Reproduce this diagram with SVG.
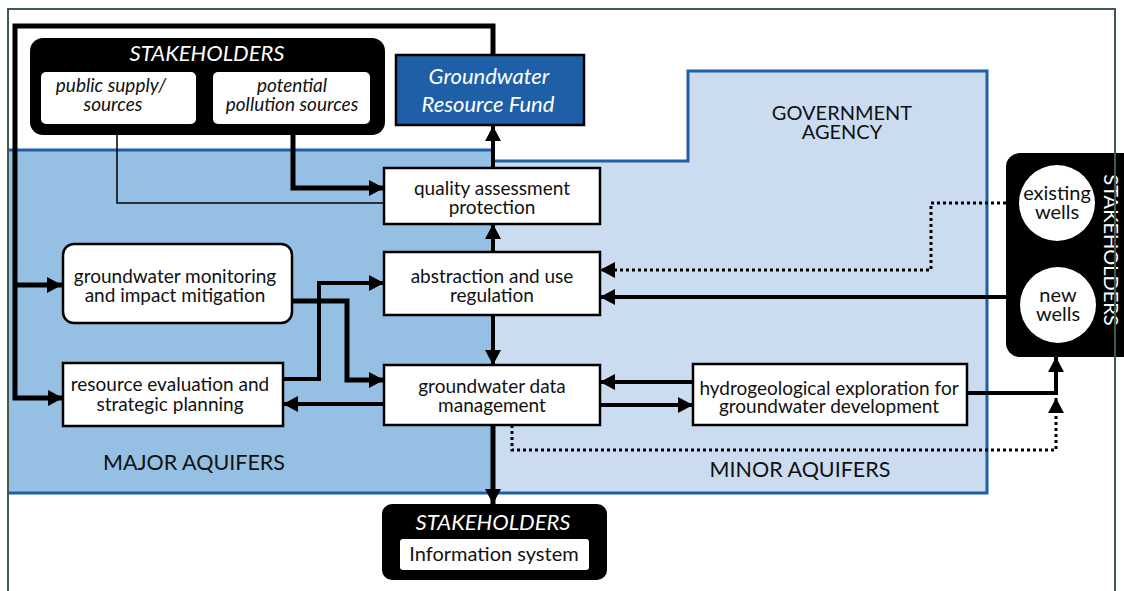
<svg xmlns="http://www.w3.org/2000/svg" width="1124" height="591" viewBox="0 0 1124 591">
<defs>
<marker id="ah" markerUnits="userSpaceOnUse" markerWidth="16" markerHeight="16" refX="15" refY="8" orient="auto">
<path d="M0,0 L15,8 L0,16 z" fill="#000"/>
</marker>
</defs>
<style>
text{font-family:Lato,"Liberation Sans",sans-serif;}
.n{font-size:19px;fill:#111;text-anchor:middle;}
.w{font-size:20px;fill:#111;text-anchor:middle;}
.lbl{font-size:20px;fill:#111;text-anchor:middle;}
.aq{font-size:21.5px;fill:#111;text-anchor:middle;}
.wi{font-size:22px;fill:#fff;text-anchor:middle;font-style:italic;}
.bi{font-size:19px;fill:#111;text-anchor:middle;font-style:italic;}
.box{fill:#fff;stroke:#000;stroke-width:2.5;}
.c{fill:none;stroke:#000;stroke-width:4;stroke-linejoin:miter;}
.ct{fill:none;stroke:#000;stroke-width:5;}
.thin{fill:none;stroke:#000;stroke-width:1.5;}
.dot{fill:none;stroke:#000;stroke-width:3;stroke-dasharray:3 3;}
.reg{stroke:#1e5faa;stroke-width:3;fill:none;}
</style>
<rect width="1124" height="591" fill="#fff"/>
<g id="regions">
<path d="M493,161 H688 V71 H987 V493 H493 Z" fill="#cbdcf1"/>
<rect x="8" y="150" width="485" height="343" fill="#95bfe3"/>
<path class="reg" d="M8,150 H493"/>
<path class="reg" d="M493,161 H688 V71 H987 V493 H8"/>
<text class="aq" x="194" y="470">MAJOR AQUIFERS</text>
<text class="aq" x="800" y="477">MINOR AQUIFERS</text>
<text class="lbl" x="842" y="120">GOVERNMENT</text>
<text class="lbl" x="842" y="139">AGENCY</text>
</g>
<g id="connectors">
<path class="ct" d="M493,55 V26 H15 V398 H63" marker-end="url(#ah)"/>
<path class="ct" d="M15,285 H62" marker-end="url(#ah)"/>
<path class="thin" d="M117,124 V203 H384"/>
<path class="ct" d="M293,135 V188 H384" marker-end="url(#ah)"/>
<path class="c" d="M493,168 V126" marker-end="url(#ah)"/>
<path class="c" d="M493,252 V224" marker-end="url(#ah)"/>
<path class="c" d="M493,315 V365" marker-end="url(#ah)"/>
<path class="ct" d="M493,425 V504" marker-end="url(#ah)"/>
<path class="ct" d="M292,301 H347 V380 H384" marker-end="url(#ah)"/>
<path class="c" d="M283,379 H319 V283 H384" marker-end="url(#ah)"/>
<path class="c" d="M384,404 H283" marker-end="url(#ah)"/>
<path class="c" d="M693,382 H600" marker-end="url(#ah)"/>
<path class="c" d="M600,405 H693" marker-end="url(#ah)"/>
<path class="dot" d="M1006,203 H931 V270 H600" marker-end="url(#ah)"/>
<path class="c" d="M1006,297 H600" marker-end="url(#ah)"/>
<path class="c" d="M967,393 H1056 V357" marker-end="url(#ah)"/>
<path class="dot" d="M512,425 V450 H1056 V398" marker-end="url(#ah)"/>
</g>
<g id="stakeholders-top">
<rect x="30" y="38" width="355" height="97" rx="13" fill="#000"/>
<text class="wi" x="207" y="61">STAKEHOLDERS</text>
<rect x="41" y="72" width="155" height="52" rx="5" fill="#fff"/>
<text class="bi" x="111" y="92">public supply/</text>
<text class="bi" x="113" y="111">sources</text>
<rect x="213" y="72" width="157" height="52" rx="5" fill="#fff"/>
<text class="bi" x="292" y="92">potential</text>
<text class="bi" x="292" y="111">pollution sources</text>
</g>
<g id="fund">
<rect x="396" y="55" width="188" height="70" fill="#1f5fa8" stroke="#000" stroke-width="2.5"/>
<text class="wi" x="489" y="84">Groundwater</text>
<text class="wi" x="488" y="112">Resource Fund</text>
</g>
<g id="quality">
<rect class="box" x="384" y="168" width="216" height="56"/>
<text class="n" x="492" y="195">quality assessment</text>
<text class="n" x="492" y="214">protection</text>
</g>
<g id="abstraction">
<rect class="box" x="384" y="252" width="216" height="63"/>
<text class="n" x="492" y="283">abstraction and use</text>
<text class="n" x="492" y="302">regulation</text>
</g>
<g id="datamgmt">
<rect class="box" x="384" y="365" width="216" height="60"/>
<text class="n" x="492" y="393">groundwater data</text>
<text class="n" x="492" y="412">management</text>
</g>
<g id="monitoring">
<rect class="box" x="63" y="244" width="229" height="79" rx="11"/>
<text class="n" x="175" y="283">groundwater monitoring</text>
<text class="n" x="175" y="302">and impact mitigation</text>
</g>
<g id="evaluation">
<rect class="box" x="63" y="363" width="220" height="63"/>
<text class="n" x="170" y="391">resource evaluation and</text>
<text class="n" x="170" y="411">strategic planning</text>
</g>
<g id="hydro">
<rect class="box" x="693" y="364" width="274" height="61"/>
<text class="n" x="829" y="395">hydrogeological exploration for</text>
<text class="n" x="829" y="413">groundwater development</text>
</g>
<g id="stakeholders-bottom">
<rect x="382" y="504" width="225" height="76" rx="10" fill="#000"/>
<text class="wi" x="493" y="530">STAKEHOLDERS</text>
<rect x="400" y="539" width="189" height="31" rx="3" fill="#fff"/>
<text class="w" x="494" y="561">Information system</text>
</g>
<g id="stakeholders-right">
<rect x="1006" y="153" width="140" height="204" rx="14" fill="#000"/>
<circle cx="1057" cy="203" r="38" fill="#fff"/>
<text class="w" x="1057" y="200">existing</text>
<text class="w" x="1057" y="219">wells</text>
<circle cx="1058" cy="305" r="38" fill="#fff"/>
<text class="w" x="1058" y="302">new</text>
<text class="w" x="1058" y="321">wells</text>
<text class="lbl" style="fill:#fff" transform="translate(1104,250) rotate(90)">STAKEHOLDERS</text>
</g>
<g id="frame">
<path d="M8,600 V9 H1115 V600" fill="none" stroke="#3f5a45" stroke-width="2"/>
</g>
</svg>
